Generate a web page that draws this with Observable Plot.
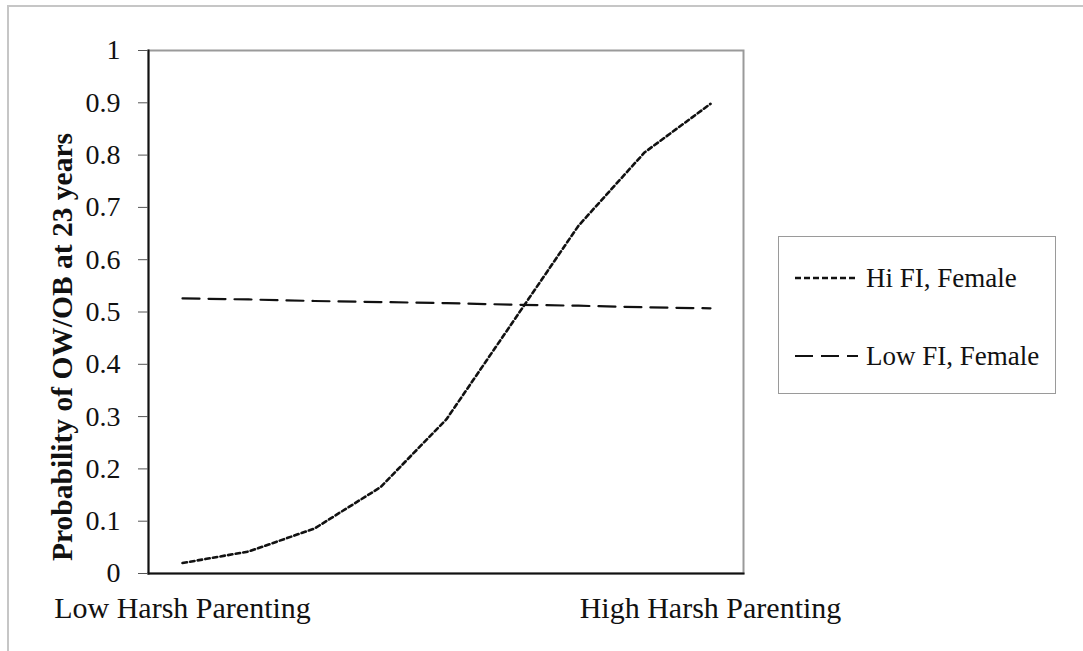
<!DOCTYPE html>
<html>
<head>
<meta charset="utf-8">
<script src="https://cdn.jsdelivr.net/npm/d3@7"></script>
<script src="https://cdn.jsdelivr.net/npm/@observablehq/plot@0.6"></script>
<style>
  body { margin: 0; background: #fff; }
  #wrap { position: relative; width: 1083px; height: 651px; overflow: hidden;
          font-family: "Liberation Serif", "Times New Roman", serif; background: #fff; }
  #outer { position: absolute; left: 7px; top: 5px; width: 3000px; height: 3000px;
           border-top: 2px solid #c6c6c6; border-left: 2px solid #c6c6c6; }
  #chart { position: absolute; left: 0; top: 0; }
  #legend { position: absolute; left: 778px; top: 236px; width: 278px; height: 158px;
            border: 1.5px solid #9a9a9a; box-sizing: border-box; background: #fff; }
  .row { position: absolute; left: 16px; height: 30px; display: flex; align-items: center; }
  .row span { font-size: 27px; color: #111; margin-left: 8px; white-space: nowrap; }
</style>
</head>
<body>
<div id="wrap">
  <div id="outer"></div>
  <div id="chart"></div>
  <div id="legend"></div>
</div>
<script>
// ---- data ----
const xCategories = [1, 2, 3, 4, 5, 6, 7, 8, 9];
const hiFI  = [0.02, 0.042, 0.086, 0.165, 0.295, 0.48, 0.665, 0.805, 0.898];
const lowFI = [0.526, 0.524, 0.521, 0.519, 0.517, 0.514, 0.512, 0.509, 0.507];
const seriesNames = ["Hi FI, Female", "Low FI, Female"];
const seriesDash = ["4.5,3.2", "17,9"];
const yTicks = [0, 0.1, 0.2, 0.3, 0.4, 0.5, 0.6, 0.7, 0.8, 0.9, 1];
const yTickLabels = ["0", "0.1", "0.2", "0.3", "0.4", "0.5", "0.6", "0.7", "0.8", "0.9", "1"];
const xTickPositions = [1, 9];
const xTickLabels = ["Low Harsh Parenting", "High Harsh Parenting"];
const yTitle = "Probability of OW/OB at 23 years";

const rows = [];
xCategories.forEach((c, i) => {
  rows.push({x: c, y: hiFI[i], s: seriesNames[0]});
  rows.push({x: c, y: lowFI[i], s: seriesNames[1]});
});

const chart = Plot.plot({
  width: 1083,
  height: 651,
  marginLeft: 148,
  marginRight: 340,
  marginTop: 50,
  marginBottom: 78,
  style: {fontFamily: '"Liberation Serif", "Times New Roman", serif', background: "transparent", color: "#111"},
  x: {type: "point", domain: xCategories, padding: 0.5},
  y: {domain: [0, 1]},
  marks: [
    Plot.frame({stroke: "#9a9a9a", strokeWidth: 2}),
    Plot.frame({anchor: "left", stroke: "#111", strokeWidth: 2}),
    Plot.frame({anchor: "bottom", stroke: "#111", strokeWidth: 2}),
    Plot.axisY({
      ticks: yTicks,
      tickFormat: d => yTickLabels[yTicks.indexOf(d)],
      tickSize: 10, tickPadding: 18, fontSize: 28, label: null, stroke: "#555"
    }),
    Plot.axisX({
      ticks: xTickPositions,
      tickFormat: d => xTickLabels[xTickPositions.indexOf(d)],
      tickSize: 0, tickPadding: 23, fontSize: 30, label: null
    }),
    Plot.text([yTitle], {
      frameAnchor: "left", textAnchor: "middle", rotate: -90, dx: -86, dy: 35,
      fontWeight: "bold", fontSize: 29.5, fill: "#111"
    }),
    Plot.line(rows.filter(d => d.s === seriesNames[1]), {
      x: "x", y: "y", stroke: "#111", strokeWidth: 2.2, strokeDasharray: seriesDash[1]
    }),
    Plot.line(rows.filter(d => d.s === seriesNames[0]), {
      x: "x", y: "y", stroke: "#111", strokeWidth: 2.6, strokeDasharray: seriesDash[0]
    })
  ]
});
document.getElementById("chart").appendChild(chart);

// ---- legend ----
const legend = document.getElementById("legend");
const rowTops = [26, 104];
seriesNames.forEach((name, i) => {
  const row = document.createElement("div");
  row.className = "row";
  row.style.top = rowTops[i] + "px";
  const svg = d3.create("svg").attr("width", 63).attr("height", 10);
  svg.append("line").attr("x1", 0).attr("x2", 63).attr("y1", 5).attr("y2", 5)
    .attr("stroke", "#111").attr("stroke-width", i === 0 ? 2.6 : 2.2)
    .attr("stroke-dasharray", i === 0 ? "6,3" : "18,8");
  row.appendChild(svg.node());
  const span = document.createElement("span");
  span.textContent = name;
  row.appendChild(span);
  legend.appendChild(row);
});
</script>
</body>
</html>
